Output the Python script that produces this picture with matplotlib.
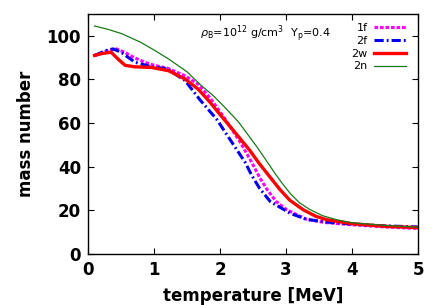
import matplotlib
matplotlib.use("Agg")
import matplotlib.pyplot as plt

T_1f = [0.1, 0.2, 0.3, 0.43, 0.55, 0.7, 0.85, 1.0, 1.2, 1.47, 1.67, 1.85, 2.08, 2.3, 2.48, 2.6, 2.71, 2.85, 3.01, 3.31, 3.6, 4.0, 4.5, 5.0]
A_1f = [91.0, 92.0, 93.3, 94.0, 92.5, 90.0, 88.0, 86.5, 85.2, 81.7, 77.8, 71.5, 61.7, 51.5, 42.0, 35.0, 29.6, 24.0, 20.2, 15.8, 14.3, 13.3, 12.3, 11.6]

T_2f = [0.1, 0.2, 0.3, 0.38, 0.5, 0.71, 0.96, 1.2, 1.47, 1.7, 1.95, 2.15, 2.38, 2.48, 2.6, 2.76, 3.06, 3.31, 3.6, 4.0, 4.5, 5.0]
A_2f = [91.0, 92.3, 93.5, 94.0, 92.5, 87.9, 85.8, 84.8, 79.5, 70.5, 61.7, 52.5, 42.0, 36.0, 30.0, 24.0, 18.6, 15.8, 14.6, 13.6, 12.8, 12.3]

T_2w = [0.1, 0.2, 0.35, 0.45, 0.56, 0.7, 0.96, 1.22, 1.47, 1.67, 1.85, 1.97, 2.15, 2.3, 2.45, 2.58, 2.71, 2.91, 3.06, 3.26, 3.45, 3.62, 4.0, 4.5, 5.0]
A_2w = [91.0, 91.8, 92.5, 89.5, 86.5, 85.8, 85.5, 84.0, 80.2, 75.5, 69.5, 65.0, 58.5, 53.0, 47.5, 42.0, 37.0, 29.4, 24.5, 20.2, 17.2, 15.6, 13.8, 12.6, 12.0]

T_2n = [0.1, 0.3, 0.51, 0.8, 1.0, 1.22, 1.5, 1.72, 1.9, 2.05, 2.28, 2.56, 2.73, 2.83, 2.95, 3.06, 3.2, 3.35, 3.55, 3.77, 4.0, 4.5, 5.0]
A_2n = [104.5, 103.0, 101.0, 97.0, 93.5, 89.4, 83.5, 77.1, 72.5, 67.9, 60.5, 49.0, 41.5, 37.0, 32.0, 27.8, 23.5, 20.5, 17.5, 15.6, 14.2, 13.0, 12.2]

legend_labels = ["1f", "2f", "2w", "2n"]

fig = plt.figure(figsize=(4.36, 3.05), dpi=100)
ax = fig.add_axes([0.2018, 0.168, 0.757, 0.786])

ax.plot(T_1f, A_1f, color="#ff00ff", lw=2.2, ls=(0, (1.2, 0.6)), label=legend_labels[0])
ax.plot(T_2f, A_2f, color="#0000ee", lw=2.2, ls=(0, (3, 1, 0.6, 1)), label=legend_labels[1])
ax.plot(T_2w, A_2w, color="#ff0000", lw=2.4, label=legend_labels[2])
ax.plot(T_2n, A_2n, color="#1a7a1a", lw=0.9, label=legend_labels[3])

ax.set_xlim(0, 5)
ax.set_ylim(0, 110)
ax.set_xticks([0, 1, 2, 3, 4, 5])
ax.set_yticks([0, 20, 40, 60, 80, 100])
ax.tick_params(direction="in", top=True, right=True, length=4, width=0.8,
               labelsize=12, pad=5)
for lab in ax.get_xticklabels() + ax.get_yticklabels():
    lab.set_fontweight("bold")
for s in ax.spines.values():
    s.set_linewidth(1.0)

ax.set_xlabel("temperature [MeV]", fontsize=12, fontweight="bold", labelpad=6)
ax.set_ylabel("mass number", fontsize=12, fontweight="bold", labelpad=8)

ax.text(0.34, 0.92, r"$\rho_{\rm B}$=10$^{12}$ g/cm$^3$  Y$_{\rm p}$=0.4",
        transform=ax.transAxes, fontsize=8, va="center", ha="left")

leg = ax.legend(loc="upper right", bbox_to_anchor=(0.985, 0.99), frameon=False,
                fontsize=8, markerfirst=False, handlelength=2.9, handletextpad=0.6,
                labelspacing=0.25, borderaxespad=0.2)
for t in leg.get_texts():
    t.set_ha("right")

fig.savefig("out.png", dpi=100)
